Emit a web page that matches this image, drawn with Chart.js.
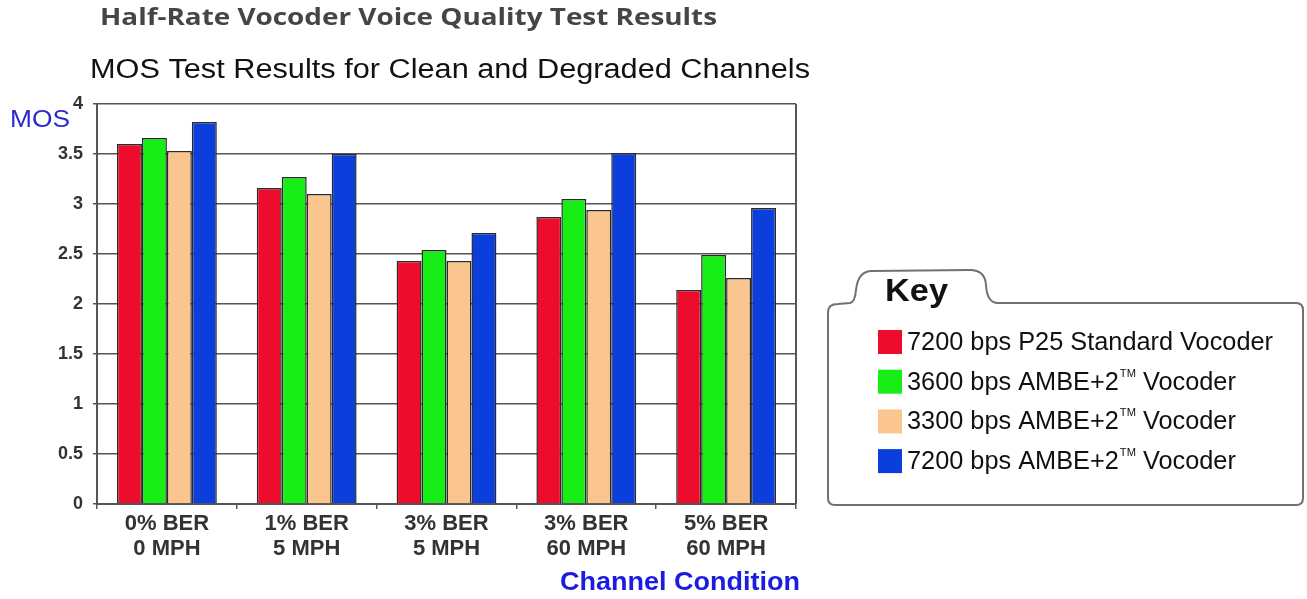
<!DOCTYPE html>
<html>
<head>
<meta charset="utf-8">
<script src="https://cdn.jsdelivr.net/npm/chart.js@4.4.1/dist/chart.umd.min.js"></script>
<style>
body { margin: 0; background: #fff; }
#wrap { width: 1307px; height: 599px; }
</style>
</head>
<body>
<div id="wrap"><canvas id="mos" width="1307" height="599"></canvas></div>
<script>
/*===== DATA =====*/

const conditions = [["0% BER", "0 MPH"], ["1% BER", "5 MPH"], ["3% BER", "5 MPH"], ["3% BER", "60 MPH"], ["5% BER", "60 MPH"]];
const seriesNames = ["7200 bps P25 Standard Vocoder", "3600 bps AMBE+2™ Vocoder", "3300 bps AMBE+2™ Vocoder", "7200 bps AMBE+2™ Vocoder"];
const p25_7200 = [3.60, 3.16, 2.43, 2.87, 2.14];
const ambe_3600 = [3.66, 3.27, 2.54, 3.05, 2.49];
const ambe_3300 = [3.53, 3.10, 2.43, 2.94, 2.26];
const ambe_7200 = [3.82, 3.50, 2.71, 3.51, 2.96];
const barColours = ["#ed0c2c", "#16ee16", "#fbc590", "#0c3edb"];

const mainTitle = "Half-Rate Vocoder Voice Quality Test Results";
const subTitle = "MOS Test Results for Clean and Degraded Channels";
const yTitle = "MOS";
const xTitle = "Channel Condition";

Chart.defaults.font.family = "'Liberation Sans', Arial, sans-serif";

/*===== TEXT HELPERS =====*/

// draws text squeezed/stretched to a given width
function fitText(ctx, text, x, y, w, font, colour) {
    ctx.save();
    ctx.font = font;
    ctx.fillStyle = colour;
    ctx.textBaseline = "middle";
    ctx.textAlign = "left";
    var s = w / ctx.measureText(text).width;
    ctx.translate(x, y);
    ctx.scale(s, 1);
    ctx.fillText(text, 0, 0);
    ctx.restore();
}

// legend label with a small raised TM
function drawKeyLabel(ctx, text, x, y, s) {
    var parts = text.split("™");
    ctx.save();
    ctx.translate(x, y);
    ctx.scale(s, 1);
    ctx.fillStyle = "#111";
    ctx.textBaseline = "middle";
    var cx = 0;
    ctx.font = "25px 'Liberation Sans', Arial";
    ctx.fillText(parts[0], cx, 0);
    cx += ctx.measureText(parts[0]).width;
    if (parts.length > 1) {
        ctx.font = "11px 'Liberation Sans', Arial";
        ctx.fillText("TM", cx + 1, -9);
        cx += ctx.measureText("TM").width + 1;
        ctx.font = "25px 'Liberation Sans', Arial";
        ctx.fillText(parts[1], cx, 0);
    }
    ctx.restore();
}

/*===== DECORATION PLUGIN =====*/

var decor = {
    id: "decor",
    beforeDraw: function(chart) {
        var ctx = chart.ctx;
        ctx.save();
        ctx.fillStyle = "#fff";
        ctx.fillRect(0, 0, chart.width, chart.height);
        ctx.restore();
    },
    afterDraw: function(chart) {
        var ctx = chart.ctx;
        var a = chart.chartArea;

        // right frame line
        ctx.save();
        ctx.strokeStyle = "#555";
        ctx.lineWidth = 2;
        ctx.beginPath();
        ctx.moveTo(a.right, a.top);
        ctx.lineTo(a.right, a.bottom);
        ctx.stroke();
        ctx.restore();

        fitText(ctx, mainTitle, 100, 18, 617, "bold 24px 'Open Sans'", "#454545");
        fitText(ctx, subTitle, 90, 71, 720, "27px 'Liberation Sans'", "#111");
        fitText(ctx, yTitle, 10, 121, 60, "23px 'Liberation Sans'", "#2a2ad0");
        fitText(ctx, xTitle, 560, 583, 240, "bold 26px 'Liberation Sans'", "#1c1ce0");

        // key box with tab
        ctx.save();
        ctx.strokeStyle = "#707070";
        ctx.lineWidth = 2;
        ctx.fillStyle = "#fff";
        ctx.beginPath();
        ctx.moveTo(828, 312);
        ctx.quadraticCurveTo(828, 304, 838, 304);
        ctx.lineTo(850, 303);
        ctx.quadraticCurveTo(855, 302, 856, 290);
        ctx.quadraticCurveTo(858, 271, 872, 271);
        ctx.lineTo(970, 270);
        ctx.quadraticCurveTo(985, 270, 986, 285);
        ctx.quadraticCurveTo(987, 303, 998, 303);
        ctx.lineTo(1296, 303);
        ctx.quadraticCurveTo(1303, 303, 1303, 310);
        ctx.lineTo(1303, 498);
        ctx.quadraticCurveTo(1303, 505, 1296, 505);
        ctx.lineTo(835, 505);
        ctx.quadraticCurveTo(828, 505, 828, 498);
        ctx.closePath();
        ctx.fill();
        ctx.stroke();
        ctx.restore();

        fitText(ctx, "Key", 885, 292, 63, "bold 31px 'Liberation Sans'", "#111");

        ctx.save();
        ctx.font = "25px 'Liberation Sans', Arial";
        var s = 366 / ctx.measureText(chart.data.datasets[0].label).width;
        ctx.restore();
        chart.data.datasets.forEach(function(ds, i) {
            var cy = 342 + 39.7 * i;
            ctx.save();
            ctx.fillStyle = ds.backgroundColor;
            ctx.fillRect(878, cy - 12, 24, 24);
            ctx.restore();
            drawKeyLabel(ctx, ds.label, 907, cy + 1, s);
        });
    }
};

/*===== CHART =====*/

new Chart("mos", {
    type: "bar",
    data: {
        labels: conditions,
        datasets: [p25_7200, ambe_3600, ambe_3300, ambe_7200].map(function(values, i) {
            return {
                label: seriesNames[i],
                data: values,
                backgroundColor: barColours[i],
                borderColor: "#2a2a2a",
                borderWidth: 1.5,
                categoryPercentage: 0.714,
                barPercentage: 1.0
            };
        })
    },
    options: {
        responsive: false,
        animation: false,
        layout: { padding: { left: 0, top: 104, right: 511, bottom: 0 } },
        plugins: {
            legend: { display: false },
            title: { display: false },
            tooltip: { enabled: false }
        },
        scales: {
            x: {
                offset: true,
                grid: { display: true, drawOnChartArea: false, tickLength: 5, color: "#555", lineWidth: 1.5 },
                border: { display: true, color: "#555", width: 2 },
                ticks: {
                    color: "#333",
                    font: { size: 22, weight: "bold", lineHeight: 1.15 },
                    padding: 2,
                    maxRotation: 0,
                    autoSkip: false
                },
                afterFit: function(scale) { scale.height = 95; }
            },
            y: {
                min: 0,
                max: 4,
                ticks: {
                    stepSize: 0.5,
                    color: "#333",
                    font: { size: 18, weight: "bold" },
                    padding: 10,
                    callback: function(v) { return String(Math.round(v * 10) / 10); }
                },
                grid: { color: "#555", lineWidth: 1.5, tickLength: 4 },
                border: { color: "#555", width: 2 },
                afterFit: function(scale) { scale.width = 97; }
            }
        }
    },
    plugins: [decor]
});
</script>
</body>
</html>
